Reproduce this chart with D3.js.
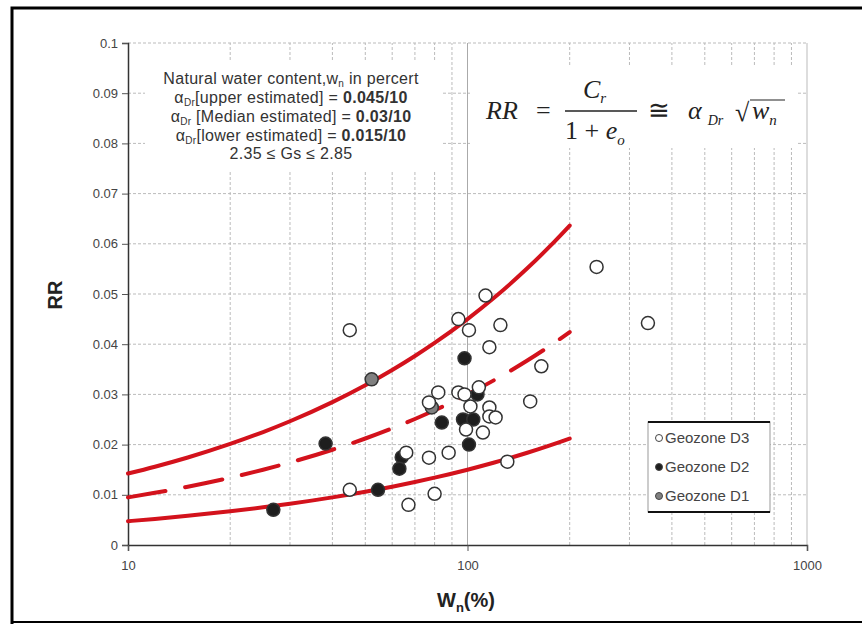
<!DOCTYPE html>
<html><head><meta charset="utf-8">
<script src="https://cdn.jsdelivr.net/npm/d3@7"></script>
<style>body{margin:0;background:#fff}svg{display:block}</style>
</head><body>
<svg id="c" width="862" height="624"></svg>
<script>
// ---- data ----
const xTicks = [10, 100, 1000];
const yTicks = [0, 0.01, 0.02, 0.03, 0.04, 0.05, 0.06, 0.07, 0.08, 0.09, 0.1];
const alphas = [0.045/10, 0.03/10, 0.015/10]; // upper, median, lower
const curveW = [10, 12, 15, 20, 25, 30, 40, 50, 60, 70, 80, 100, 120, 150, 175, 200];
const geoD3 = [[45,0.0428],[113,0.0497],[94,0.045],[125,0.0438],[101,0.0428],[116,0.0394],[165,0.0356],
  [240,0.0554],[340,0.0442],[153,0.0286],[131,0.0166],[45,0.011],[67,0.008],[80,0.0102],[88,0.0184],
  [77,0.0174],[66,0.0184],[82,0.0304],[77,0.0284],[94,0.0304],[98,0.030],[108,0.0314],[102,0.0276],
  [116,0.0274],[116,0.0256],[121,0.0254],[99,0.023],[111,0.0224]];
const geoD2 = [[26.8,0.007],[38.2,0.0202],[54.5,0.011],[64,0.0175],[63,0.0152],[98,0.0372],[84,0.0244],
  [97,0.025],[104,0.025],[101,0.020],[107,0.030]];
const geoD1 = [[52.2,0.033],[78.5,0.0274]];
const legendLabels = ["Geozone D3","Geozone D2","Geozone D1"];

const svg = d3.select("#c");
const x = d3.scaleLog().domain([10,1000]).range([128,807]);
const y = d3.scaleLinear().domain([0,0.1]).range([545,43]);

// frame
svg.append("path").attr("d","M12,624 L12,8 L862,8").attr("fill","none").attr("stroke","#000").attr("stroke-width",3);
svg.append("line").attr("x1",12).attr("x2",862).attr("y1",622).attr("y2",622).attr("stroke","#000").attr("stroke-width",2);

// grid
const minor = [];
[10,100].forEach(d=>{for(let k=2;k<=9;k++) minor.push(d*k);});
svg.append("g").selectAll("line").data(minor).join("line")
  .attr("x1",d=>x(d)).attr("x2",d=>x(d)).attr("y1",y(0)).attr("y2",y(0.1))
  .attr("stroke","#bbb").attr("stroke-width",1).attr("stroke-dasharray","3,2");
svg.append("g").selectAll("line").data([100]).join("line")
  .attr("x1",d=>x(d)).attr("x2",d=>x(d)).attr("y1",y(0)).attr("y2",y(0.1))
  .attr("stroke","#aaa").attr("stroke-width",1);
svg.append("g").selectAll("line").data(yTicks.slice(1)).join("line")
  .attr("x1",x(10)).attr("x2",x(1000)).attr("y1",d=>y(d)).attr("y2",d=>y(d))
  .attr("stroke","#bbb").attr("stroke-width",1).attr("stroke-dasharray","3,2");
svg.append("line").attr("x1",x(1000)).attr("x2",x(1000)).attr("y1",y(0)).attr("y2",y(0.1)).attr("stroke","#bbb");

// white boxes behind annotations
svg.append("rect").attr("x",145).attr("y",62).attr("width",297).attr("height",108).attr("fill","#fff");
svg.append("rect").attr("x",470).attr("y",66).attr("width",326).attr("height",82).attr("fill","#fff");

// axes
const yAxis = d3.axisLeft(y).tickValues(yTicks).tickFormat(d=>d3.format("~g")(+d.toFixed(2))).tickSize(6).tickPadding(4);
const gy = svg.append("g").attr("transform",`translate(${x(10)},0)`).call(yAxis);
const xAxis = d3.axisBottom(x).tickValues(xTicks).tickFormat(d3.format("d")).tickSize(6).tickPadding(10);
const gx = svg.append("g").attr("transform",`translate(0,${y(0)})`).call(xAxis);
[gx,gy].forEach(g=>{
  g.select(".domain").attr("stroke","#333").attr("stroke-width",1.5);
  g.selectAll(".tick line").attr("stroke","#555");
  g.selectAll("text").attr("font-family","Liberation Sans, Arial, sans-serif").attr("font-size",13).attr("fill","#444");
});

// axis titles
svg.append("text").attr("transform","translate(62,295) rotate(-90)").attr("text-anchor","middle")
  .attr("font-family","Liberation Sans, Arial, sans-serif").attr("font-weight","bold").attr("font-size",20).attr("fill","#222").text("RR");
const xt = svg.append("text").attr("x",466).attr("y",607).attr("text-anchor","middle")
  .attr("font-family","Liberation Sans, Arial, sans-serif").attr("font-weight","bold").attr("font-size",20).attr("fill","#222");
xt.append("tspan").text("W");
xt.append("tspan").attr("font-size",13).attr("dy",5).text("n");
xt.append("tspan").attr("dy",-5).text("(%)");

// curves
const line = d3.line().x(d=>x(d[0])).y(d=>y(d[1])).curve(d3.curveMonotoneX);
alphas.forEach((a,i)=>{
  svg.append("path").datum(curveW.map(w=>[w,a*Math.sqrt(w)])).attr("d",line)
    .attr("fill","none").attr("stroke","#d3121c").attr("stroke-width",4)
    .attr("stroke-linecap","round")
    .attr("stroke-dasharray", i===1 ? "38,20" : null);
});

// points
function pts(data, fill){
  svg.append("g").selectAll("circle").data(data).join("circle")
    .attr("cx",d=>x(d[0])).attr("cy",d=>y(d[1])).attr("r",6.5)
    .attr("fill",fill).attr("stroke","#333").attr("stroke-width",1.5);
}
pts(geoD1,"#808080");
pts(geoD2,"#1e1e1e");
pts(geoD3,"#fff");

// annotation text
const F = "Liberation Sans, Arial, sans-serif";
const ann = svg.append("g").attr("font-family",F).attr("font-size",16).attr("letter-spacing",0.3).attr("fill","#333").attr("text-anchor","middle");
const l1 = ann.append("text").attr("x",291).attr("y",84);
l1.append("tspan").text("Natural water content,w");
l1.append("tspan").attr("font-size",10).attr("dy",3).text("n");
l1.append("tspan").attr("dy",-3).text(" in percert");
function alphaLine(yy, mid, val){
  const t = ann.append("text").attr("x",291).attr("y",yy);
  t.append("tspan").text("α");
  t.append("tspan").attr("font-size",10).attr("dy",3).text("Dr");
  t.append("tspan").attr("dy",-3).text(mid);
  t.append("tspan").attr("font-weight","bold").text(val);
}
alphaLine(103,"[upper estimated] = ","0.045/10");
alphaLine(122," [Median estimated] = ","0.03/10");
alphaLine(141,"[lower estimated] = ","0.015/10");
ann.append("text").attr("x",291).attr("y",159).text("2.35 ≤ Gs ≤ 2.85");

// formula
const FS = "Liberation Serif, Times New Roman, serif";
const fm = svg.append("g").attr("font-family",FS).attr("fill","#222").attr("font-style","italic");
fm.append("text").attr("x",486).attr("y",119).attr("font-size",26).text("RR");
fm.append("text").attr("x",536).attr("y",119).attr("font-size",26).attr("font-style","normal").text("=");
fm.append("line").attr("x1",565).attr("x2",637).attr("y1",111).attr("y2",111).attr("stroke","#222").attr("stroke-width",1.3);
const cr = fm.append("text").attr("x",583).attr("y",98).attr("font-size",26);
cr.append("tspan").text("C");
cr.append("tspan").attr("font-size",15).attr("dy",5).text("r");
const eo = fm.append("text").attr("x",565).attr("y",139).attr("font-size",26);
eo.append("tspan").attr("font-style","normal").text("1 + ");
eo.append("tspan").text("e");
eo.append("tspan").attr("font-size",15).attr("dy",6).text("o");
fm.append("text").attr("x",648).attr("y",119).attr("font-size",26).attr("font-style","normal").text("≅");
const al = fm.append("text").attr("x",688).attr("y",119).attr("font-size",26);
al.append("tspan").text("α");
al.append("tspan").attr("font-size",14).attr("dy",6).attr("dx",6).text("Dr");
fm.append("text").attr("x",735).attr("y",121).attr("font-size",26).attr("font-style","normal").text("√");
fm.append("line").attr("x1",750).attr("x2",785).attr("y1",100).attr("y2",100).attr("stroke","#222").attr("stroke-width",1.2);
const wn = fm.append("text").attr("x",752).attr("y",119).attr("font-size",26);
wn.append("tspan").text("w");
wn.append("tspan").attr("font-size",15).attr("dy",6).text("n");

// legend
const lg = svg.append("g");
lg.append("rect").attr("x",648).attr("y",422).attr("width",122).attr("height",90).attr("fill","#fff").attr("stroke","#999").attr("stroke-width",1);
lg.append("line").attr("x1",648).attr("x2",770).attr("y1",422).attr("y2",422).attr("stroke","#111").attr("stroke-width",2);
lg.append("line").attr("x1",648).attr("x2",770).attr("y1",512).attr("y2",512).attr("stroke","#111").attr("stroke-width",2);
const lfill = ["#fff","#1e1e1e","#808080"];
legendLabels.forEach((t,i)=>{
  const yy = 438 + i*29;
  lg.append("circle").attr("cx",659).attr("cy",yy).attr("r",3.5).attr("fill",lfill[i]).attr("stroke","#444").attr("stroke-width",1);
  lg.append("text").attr("x",665).attr("y",yy+5).attr("font-family",F).attr("font-size",15).attr("fill","#444").text(t);
});
</script>
</body></html>
